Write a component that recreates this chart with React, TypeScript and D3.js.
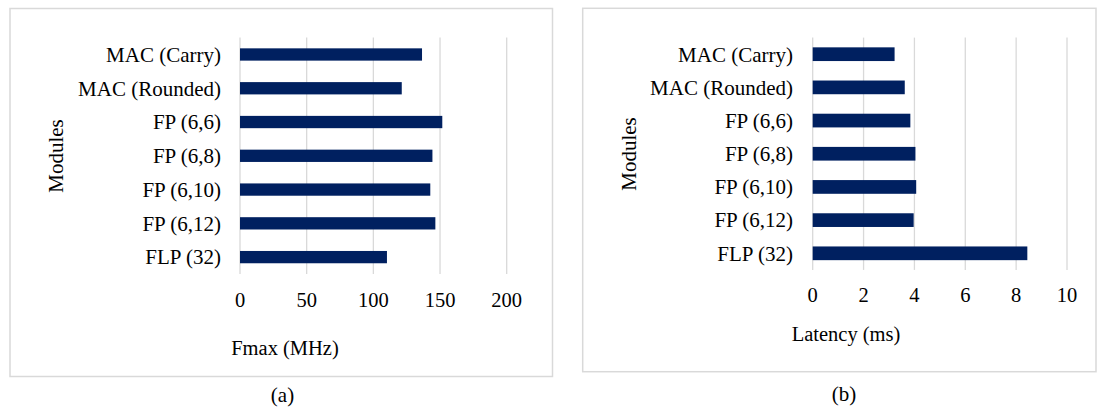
import React from "react";
import * as d3 from "d3";

const categories = ["MAC (Carry)", "MAC (Rounded)", "FP (6,6)", "FP (6,8)", "FP (6,10)", "FP (6,12)", "FLP (32)"];
const fmaxValues = [136.5, 121.3, 151.7, 144.3, 142.7, 146.5, 110.2];
const latencyValues = [3.22, 3.62, 3.84, 4.04, 4.07, 3.97, 8.44];
const fmaxTicks = [0, 50, 100, 150, 200];
const latencyTicks = [0, 2, 4, 6, 8, 10];

const FONT = "Liberation Serif, Tinos, Times New Roman, DejaVu Serif, serif";
const BAR = "#002060";
const GRID = "#d9d9d9";

type PanelProps = {
  values: number[];
  ticks: number[];
  frame: [number, number, number, number];
  xRange: [number, number];
  yRange: [number, number];
  padding: number;
  tickBaseline: number;
  title: string;
  titleX: number;
  titleBaseline: number;
  modulesX: number;
  modulesY: number;
  labelRight: number;
  caption: string;
  captionX: number;
  captionBaseline: number;
};

const txt = (size: number) => ({ fontFamily: FONT, fontSize: size + "px" });

function Panel(p: PanelProps) {
  const x = d3.scaleLinear().domain([p.ticks[0], p.ticks[p.ticks.length - 1]]).range(p.xRange);
  const y = d3.scaleBand<string>().domain(categories).range(p.yRange).paddingInner(p.padding).paddingOuter(p.padding / 2);
  const [fx0, fy0, fx1, fy1] = p.frame;
  return (
    <g>
      <rect x={fx0} y={fy0} width={fx1 - fx0} height={fy1 - fy0} fill="#fff" stroke={GRID} strokeWidth={1.5} />
      {p.ticks.map((t) => (
        <line key={"g" + t} x1={x(t)} x2={x(t)} y1={p.yRange[0]} y2={p.yRange[1]} stroke={GRID} strokeWidth={1.3} />
      ))}
      {categories.map((c, i) => (
        <rect key={c} x={x(0)} y={y(c)!} width={x(p.values[i]) - x(0)} height={y.bandwidth()} fill={BAR} />
      ))}
      {categories.map((c) => (
        <text key={"l" + c} x={p.labelRight} y={y(c)! + y.bandwidth() / 2} dy="0.35em" textAnchor="end" style={txt(21)} fill="#000">
          {c}
        </text>
      ))}
      {p.ticks.map((t) => (
        <text key={"t" + t} x={x(t)} y={p.tickBaseline} textAnchor="middle" style={txt(20.5)} fill="#000">
          {t}
        </text>
      ))}
      <text x={p.titleX} y={p.titleBaseline} textAnchor="middle" style={txt(20.5)} fill="#000">
        {p.title}
      </text>
      <text transform={`translate(${p.modulesX},${p.modulesY}) rotate(-90)`} textAnchor="middle" style={txt(21)} fill="#000">
        Modules
      </text>
      <text x={p.captionX} y={p.captionBaseline} textAnchor="middle" style={txt(21)} fill="#000">
        {p.caption}
      </text>
    </g>
  );
}

export default function App() {
  return (
    <div style={{ position: "absolute", left: 0, top: 0 }}>
      <svg width={1099} height={409} style={{ display: "block", background: "#fff" }}>
        <Panel
          values={fmaxValues}
          ticks={fmaxTicks}
          frame={[10, 8.5, 552.5, 376.5]}
          xRange={[240, 506.7]}
          yRange={[37.6, 274]}
          padding={0.636}
          tickBaseline={306.7}
          title="Fmax (MHz)"
          titleX={285}
          titleBaseline={355}
          modulesX={63}
          modulesY={156}
          labelRight={221}
          caption="(a)"
          captionX={282.5}
          captionBaseline={402}
        />
        <Panel
          values={latencyValues}
          ticks={latencyTicks}
          frame={[582.7, 8.3, 1096, 371.7]}
          xRange={[812.7, 1067]}
          yRange={[37.6, 269.9]}
          padding={0.587}
          tickBaseline={301.7}
          title="Latency (ms)"
          titleX={846}
          titleBaseline={340.7}
          modulesX={636}
          modulesY={154}
          labelRight={793}
          caption="(b)"
          captionX={844}
          captionBaseline={401}
        />
      </svg>
    </div>
  );
}
